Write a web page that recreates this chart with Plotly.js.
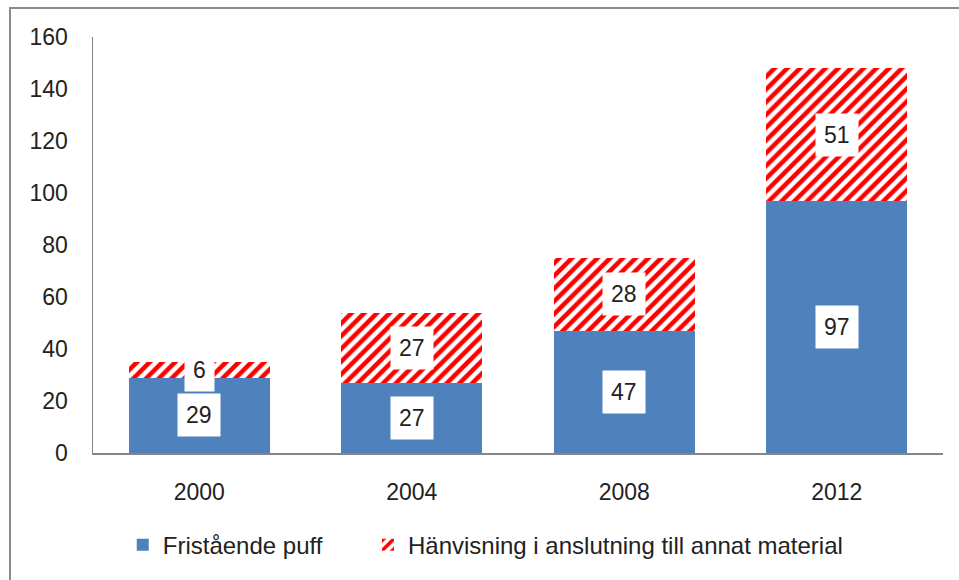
<!DOCTYPE html>
<html><head><meta charset="utf-8">
<script src="https://cdn.plot.ly/plotly-3.0.1.min.js"></script>
<style>
html,body{margin:0;padding:0;background:#fff;}
#wrap{position:relative;width:959px;height:580px;overflow:hidden;}
#chart{position:absolute;left:0;top:0;width:959px;height:580px;}
#frame{position:absolute;left:9px;top:7px;width:1000px;height:1000px;border-left:2px solid #8a8a8a;border-top:2px solid #8a8a8a;pointer-events:none;}
</style></head>
<body><div id="wrap"><div id="chart"></div><div id="frame"></div></div>
<script>
const years = ["2000","2004","2008","2012"];
const fristaende = [29,27,47,97];
const hanvisning = [6,27,28,51];
const seriesNames = ["Fristående puff","Hänvisning i anslutning till annat material"];
const yTicks = [0,20,40,60,80,100,120,140,160];

const FONT = "Liberation Sans, Arial, sans-serif";
const idx = years.map((_,i)=>i);
const traces = [
  {type:"bar", x:idx, y:fristaende, name:seriesNames[0], legend:"legend",
   marker:{color:"#4F81BD"}, width:0.665, hoverinfo:"none"},
  {type:"bar", x:idx, y:hanvisning, name:seriesNames[1], legend:"legend2",
   marker:{color:"#ffffff", pattern:{shape:"/", fgcolor:"#FF0000", bgcolor:"#ffffff", size:9, solidity:0.5}},
   width:0.665, hoverinfo:"none"}
];
const annotations = [];
idx.forEach(i=>{
  annotations.push({x:i, y:fristaende[i]/2, text:String(fristaende[i]), showarrow:false,
    bgcolor:"#ffffff", borderpad:8, font:{family:FONT,size:23,color:"#222"}});
  annotations.push({x:i, y:fristaende[i]+hanvisning[i]/2, text:String(hanvisning[i]), showarrow:false,
    bgcolor:"#ffffff", borderpad:8, font:{family:FONT,size:23,color:"#222"}});
});
const legendBase = {orientation:"h", xref:"container", yref:"container", xanchor:"left", y:0.06, yanchor:"middle",
    font:{family:FONT,size:24,color:"#222"}};
const layout = {
  width:959, height:580,
  margin:{l:93, r:16, t:37, b:127},
  barmode:"stack",
  paper_bgcolor:"#fff", plot_bgcolor:"#fff",
  font:{family:FONT, size:23, color:"#222"},
  xaxis:{type:"linear", range:[-0.5,3.5], tickvals:idx, ticktext:years, showline:true, linecolor:"#868686", linewidth:1.5, ticks:"",
    showgrid:false, zeroline:false, ticklabelstandoff:18, tickfont:{family:FONT,size:23,color:"#222"}},
  yaxis:{range:[0,160], tickvals:yTicks, ticktext:yTicks.map(String), showline:true, linecolor:"#868686", linewidth:1.5,
    ticks:"", showgrid:false, zeroline:false, ticklabelstandoff:19, tickfont:{family:FONT,size:23,color:"#222"}},
  legend:Object.assign({}, legendBase, {x:0.128}),
  legend2:Object.assign({}, legendBase, {x:0.3837}),
  annotations:annotations,
  showlegend:true
};
Plotly.newPlot("chart", traces, layout, {staticPlot:true, displayModeBar:false});
</script></body></html>
